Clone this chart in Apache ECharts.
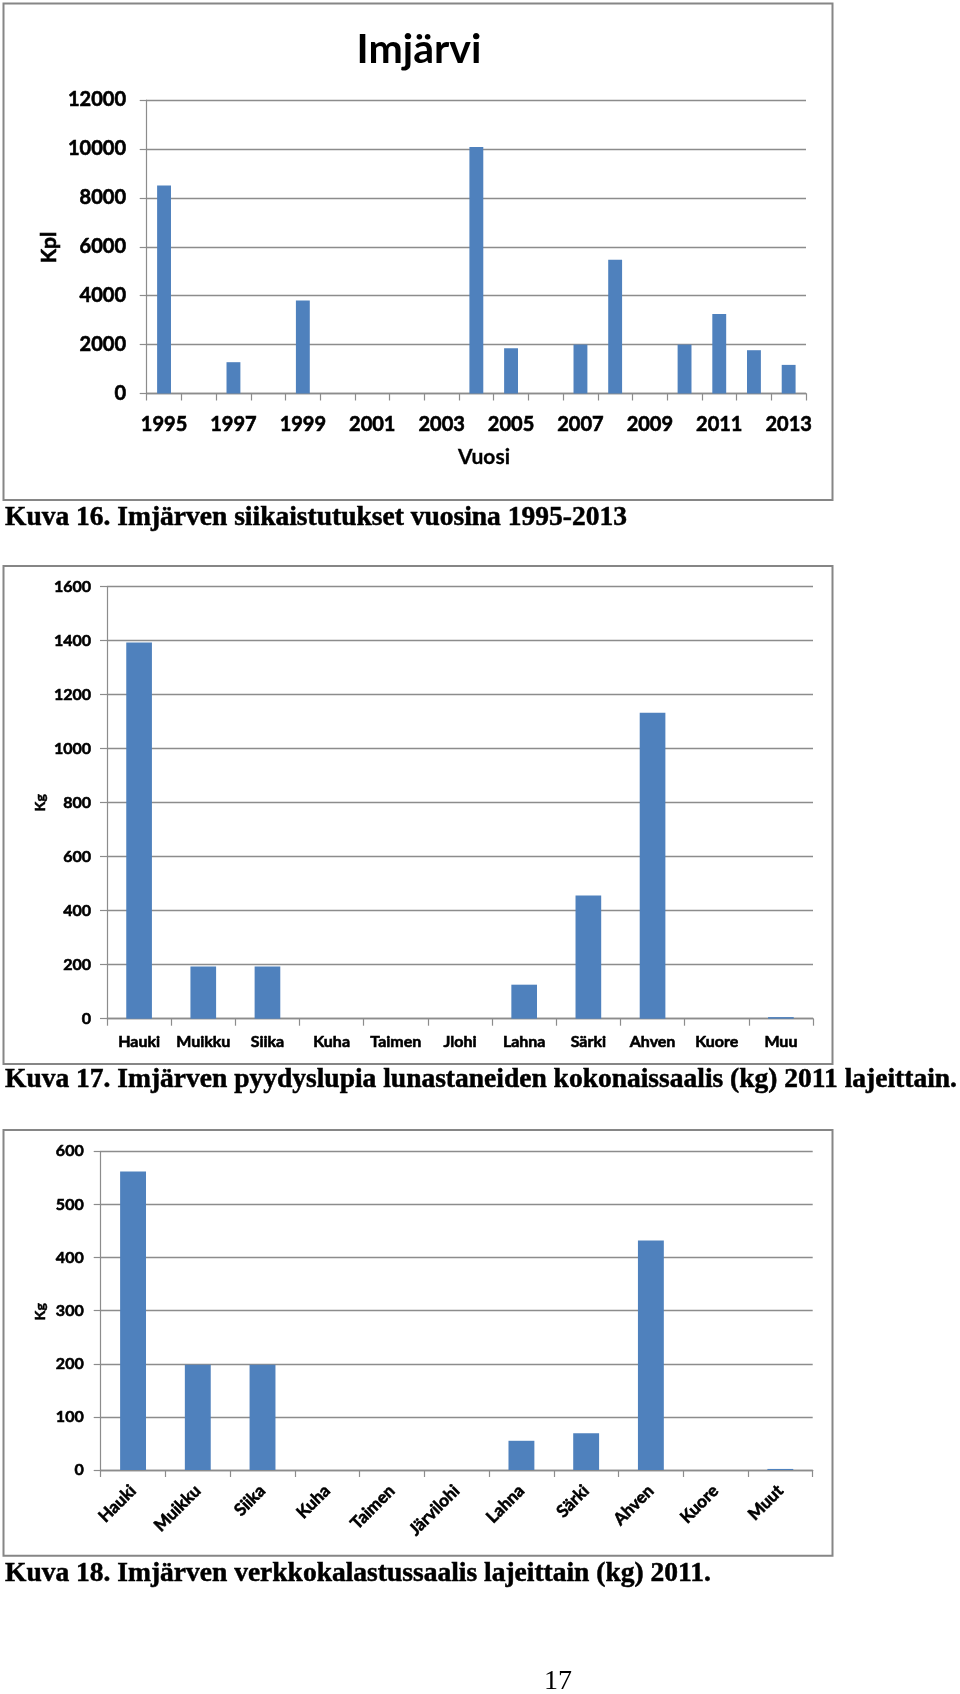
<!DOCTYPE html>
<html>
<head>
<meta charset="utf-8">
<script src="https://cdn.jsdelivr.net/npm/echarts@6/dist/echarts.min.js"></script>
<style>
html,body{margin:0;padding:0;background:#fff;}
#c{width:960px;height:1694px;}
</style>
</head>
<body>
<div id="c"></div>
<script>
// ---- Chart 1: Imjärvi stocking (kpl) ----
const years = ['1995','1996','1997','1998','1999','2000','2001','2002','2003','2004','2005','2006','2007','2008','2009','2010','2011','2012','2013'];
const stocked = [8500, null, 1280, null, 3800, null, null, null, null, 10080, 1850, null, 2000, 5470, null, 2000, 3250, 1770, 1170];
const yTicks1 = {min: 0, max: 12000, interval: 2000};

// ---- Chart 2: permit holders' total catch 2011 (kg) ----
const species2 = ['Hauki','Muikku','Siika','Kuha','Taimen','Jlohi','Lahna','Särki','Ahven','Kuore','Muu'];
const catch2 = [1393, 193, 193, 0, 0, 0, 126, 456, 1133, 0, 6];
const yTicks2 = {min: 0, max: 1600, interval: 200};

// ---- Chart 3: net fishing catch 2011 (kg) ----
const species3 = ['Hauki','Muikku','Siika','Kuha','Taimen','Järvilohi','Lahna','Särki','Ahven','Kuore','Muut'];
const catch3 = [562, 198, 198, 0, 0, 0, 55, 69, 432, 0, 2];
const yTicks3 = {min: 0, max: 600, interval: 100};

const captions = [
  'Kuva 16. Imjärven siikaistutukset vuosina 1995-2013',
  'Kuva 17. Imjärven pyydyslupia lunastaneiden kokonaissaalis (kg) 2011 lajeittain.',
  'Kuva 18. Imjärven verkkokalastussaalis lajeittain (kg) 2011.'
];
const pageNumber = '17';

const FONT = 'Lato, "Open Sans", sans-serif';
const SERIF = '"Liberation Serif", "DejaVu Serif", serif';
const GRID_COLOR = '#8c8c8c';
const BAR_COLOR = '#4F81BD';

function yAxisCfg(idx, ticks, fontSize, margin, tickLen) {
  return {
    type: 'value', gridIndex: idx, min: ticks.min, max: ticks.max, interval: ticks.interval,
    axisLine: {show: true, lineStyle: {color: GRID_COLOR, width: 1.2}},
    axisTick: {show: true, length: tickLen, lineStyle: {color: GRID_COLOR, width: 1.2}},
    splitLine: {show: true, lineStyle: {color: GRID_COLOR, width: 1.4}},
    axisLabel: {fontFamily: FONT, fontWeight: 'bold', fontSize: fontSize, color: '#000', margin: margin,
      textBorderColor: '#000', textBorderWidth: 0.6,
      formatter: function (v) { return String(v); }}
  };
}
function xAxisCfg(idx, cats, fontSize, margin, labelInterval, rotate) {
  return {
    type: 'category', gridIndex: idx, data: cats,
    axisLine: {show: true, lineStyle: {color: GRID_COLOR, width: 1.4}},
    axisTick: {show: true, length: 7, interval: 0, lineStyle: {color: GRID_COLOR, width: 1.2}},
    axisLabel: {fontFamily: FONT, fontWeight: 'bold', fontSize: fontSize, color: '#000',
      textBorderColor: '#000', textBorderWidth: 0.6,
      margin: margin, interval: labelInterval, rotate: rotate}
  };
}

const chart = echarts.init(document.getElementById('c'), null, {renderer: 'canvas'});

const frameStyle = {fill: 'none', stroke: '#868686', lineWidth: 2};

function txt(x, y, text, font, align, rot, strokeW) {
  const el = {type: 'text', x: x, y: y,
    style: {text: text, font: font, fill: '#000', textAlign: align, textVerticalAlign: 'middle'}};
  if (rot) el.rotation = rot;
  if (strokeW) { el.style.stroke = '#000'; el.style.lineWidth = strokeW; }
  return el;
}

chart.setOption({
  animation: false,
  backgroundColor: '#fff',
  title: {
    text: 'Imjärvi', left: 414, top: 24, textAlign: 'center',
    textStyle: {fontFamily: FONT, fontWeight: 'bold', fontSize: 41, color: '#000'}
  },
  grid: [
    {left: 146.7, top: 100, width: 659.3, height: 293.5},
    {left: 107, top: 586.7, width: 706, height: 432},
    {left: 100.7, top: 1151.3, width: 712, height: 318.7}
  ],
  xAxis: [
    xAxisCfg(0, years, 20, 21, 1, 0),
    xAxisCfg(1, species2, 16, 15, 0, 0),
    xAxisCfg(2, species3, 17, 18, 0, 45)
  ],
  yAxis: [
    yAxisCfg(0, yTicks1, 20, 20.7, 7),
    yAxisCfg(1, yTicks2, 16, 16, 7),
    yAxisCfg(2, yTicks3, 16, 17, 7)
  ],
  series: [
    {type: 'bar', xAxisIndex: 0, yAxisIndex: 0, data: stocked, barWidth: '40%', itemStyle: {color: BAR_COLOR}},
    {type: 'bar', xAxisIndex: 1, yAxisIndex: 1, data: catch2, barWidth: '40%', itemStyle: {color: BAR_COLOR}},
    {type: 'bar', xAxisIndex: 2, yAxisIndex: 2, data: catch3, barWidth: '40%', itemStyle: {color: BAR_COLOR}}
  ],
  graphic: [
    {type: 'rect', shape: {x: 3.5, y: 3.5, width: 829, height: 496.5}, style: frameStyle, z: -1},
    {type: 'rect', shape: {x: 3.5, y: 566, width: 829, height: 498}, style: frameStyle, z: -1},
    {type: 'rect', shape: {x: 3.5, y: 1130, width: 829, height: 425.7}, style: frameStyle, z: -1},
    txt(49, 247.5, 'Kpl', 'bold 21px ' + FONT, 'center', Math.PI / 2, 0.6),
    txt(484, 457.5, 'Vuosi', 'bold 21px ' + FONT, 'center', 0, 0.3),
    txt(40, 802.7, 'Kg', 'bold 14px ' + FONT, 'center', Math.PI / 2, 0.5),
    txt(40, 1311.7, 'Kg', 'bold 14px ' + FONT, 'center', Math.PI / 2, 0.5),
    txt(5, 518, captions[0], 'bold 27.5px ' + SERIF, 'left', 0, 0.5),
    txt(5, 1080, captions[1], 'bold 27.5px ' + SERIF, 'left', 0, 0.5),
    txt(5, 1574, captions[2], 'bold 27.5px ' + SERIF, 'left', 0, 0.5),
    txt(558, 1682, pageNumber, '28px ' + SERIF, 'center', 0, 0)
  ]
});
</script>
</body>
</html>
